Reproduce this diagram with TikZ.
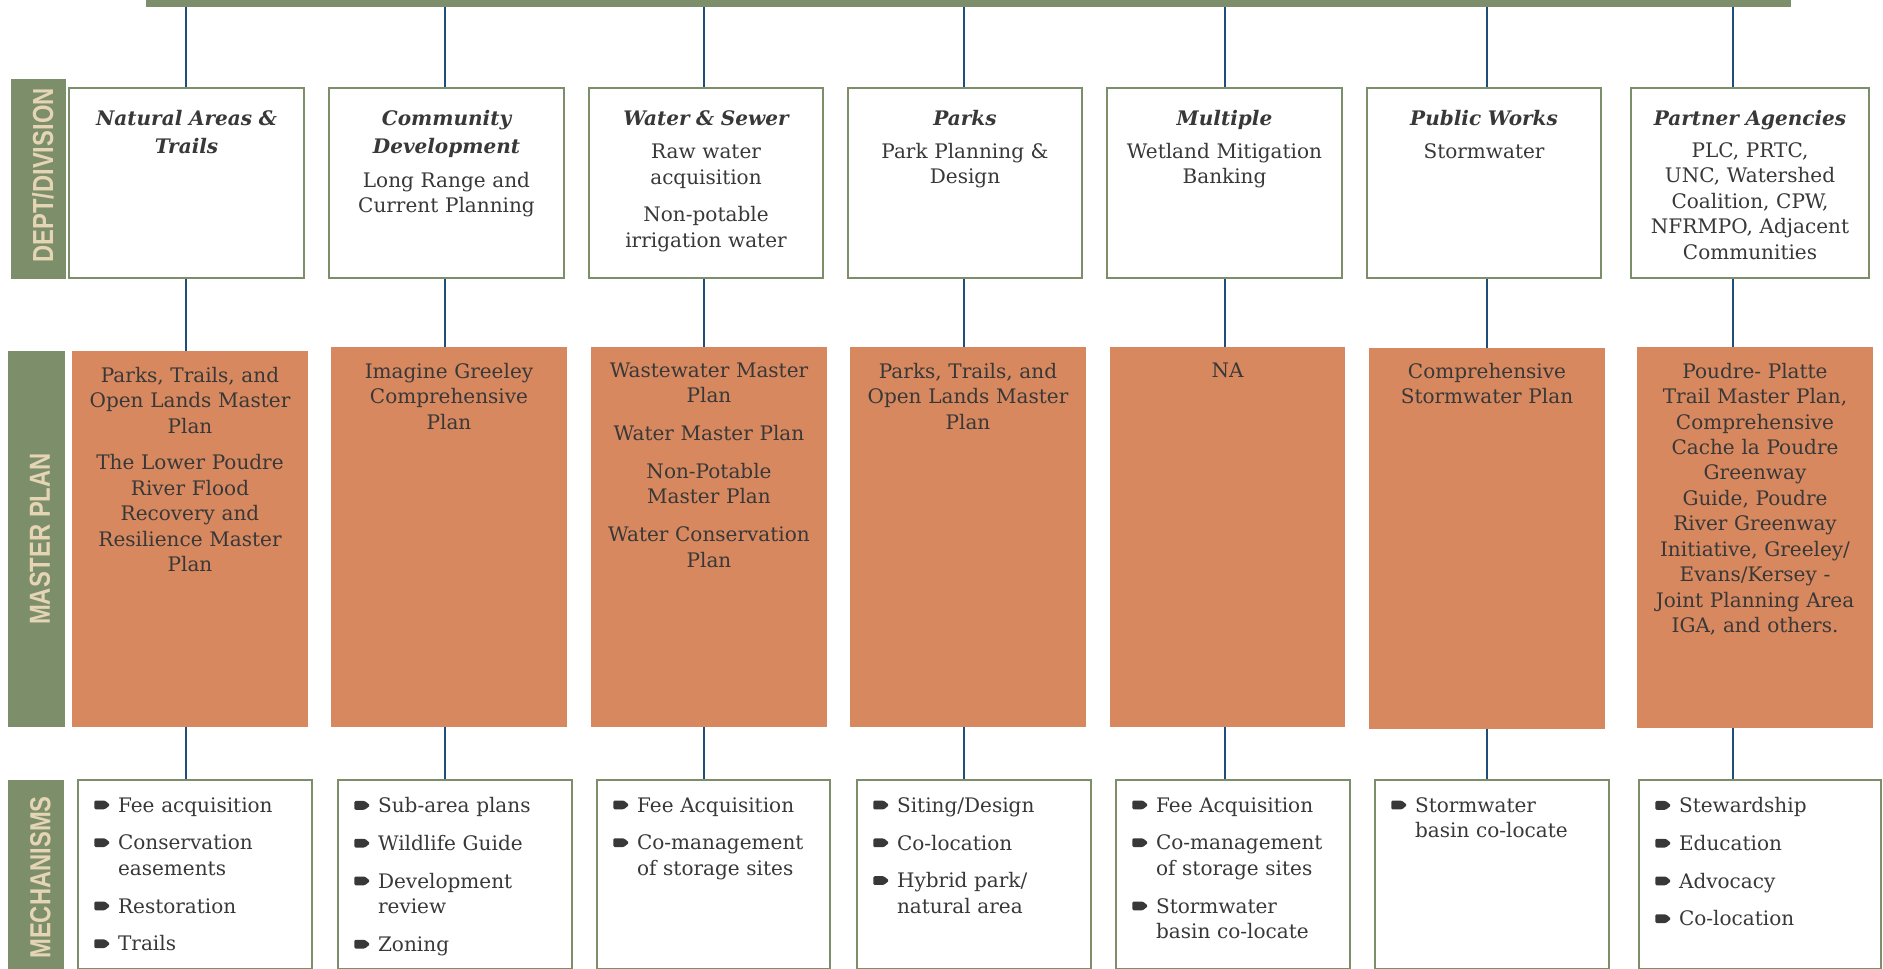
\documentclass[tikz,border=0pt]{standalone}
\usepackage{fontspec}
\setmainfont{DejaVu Serif}
\newfontfamily\tabfont[FakeStretch=0.82]{Liberation Sans}
\usetikzlibrary{fit,backgrounds}

\definecolor{sage}{HTML}{7C8F6A}
\definecolor{clay}{HTML}{D8885F}
\definecolor{navy}{HTML}{1F4E7A}
\definecolor{ink}{HTML}{383838}
\definecolor{sand}{HTML}{E5D5B5}

\newcommand{\headfont}{\bfseries\itshape}
% small tag bullet for the mechanism lists
\newcommand{\bul}{\tikz[baseline=0pt]\fill[ink,rounded corners=0.7pt] (0pt,1.6pt) -- (6pt,1.6pt) -- (9pt,4.1pt) -- (6pt,6.6pt) -- (0pt,6.6pt) -- cycle;\hspace{4.5pt}}
\newcommand{\ind}{\hspace*{13.5pt}}

\begin{document}
\begin{tikzpicture}[x=0.02cm,y=-0.02cm,
	deptbox/.style={draw=sage,line width=1.2pt,fill=white,inner sep=0pt},
	planbox/.style={fill=clay,inner sep=0pt},
	tab/.style={fill=sage,inner sep=0pt},
	tabtext/.style={rotate=90,text=sand,inner sep=0pt,font=\tabfont\bfseries\fontsize{16.5}{18}\selectfont},
	boxtext/.style={anchor=north,align=center,text=ink,text width=4.6cm,inner sep=0pt,font=\fontsize{11.4}{14.5}\selectfont},
	listtext/.style={anchor=north west,align=left,text=ink,text width=4.2cm,inner sep=0pt,font=\fontsize{11.4}{14.5}\selectfont},
	link/.style={navy,line width=1.3pt}]
	\clip (0,0) rectangle (1883,968);

	% top bar and row tabs
	\node[tab, fit={(146,0) (1791,7)}] (bar) {};
	\node[tab, fit={(11,79) (66,279)}] (t1) {};
	\node[tab, fit={(8,351) (65,727)}] (t2) {};
	\node[tab, fit={(8,780) (64,975)}] (t3) {};
	\node[tabtext] (t1l) at ([xshift=2.5pt,yshift=2pt]t1.center) {DEPT/DIVISION};
	\node[tabtext] (t2l) at ([xshift=2pt]t2.center) {MASTER PLAN};
	\node[tabtext] (t3l) at ([xshift=2.5pt]t3.center) {MECHANISMS};

	% dept/division row
	\node[deptbox, fit={(69,88) (304,278)}] (d1) {};
	\node[deptbox, fit={(329,88) (564,278)}] (d2) {};
	\node[deptbox, fit={(589,88) (823,278)}] (d3) {};
	\node[deptbox, fit={(848,88) (1082,278)}] (d4) {};
	\node[deptbox, fit={(1107,88) (1342,278)}] (d5) {};
	\node[deptbox, fit={(1367,88) (1601,278)}] (d6) {};
	\node[deptbox, fit={(1631,88) (1869,278)}] (d7) {};
	\node[boxtext] (d1t) at (186.5,110) {{\headfont Natural Areas \&\\[1.2pt]Trails}};
	\node[boxtext] (d2t) at (446.5,110) {{\headfont Community\\[1.2pt]Development}\\[5pt]Long Range and\\Current Planning};
	\node[boxtext] (d3t) at (706,110) {{\headfont Water \& Sewer}\\[4.5pt]Raw water\\acquisition\\[7pt]Non-potable\\irrigation water};
	\node[boxtext] (d4t) at (965,110) {{\headfont Parks}\\[4pt]Park Planning \&\\Design};
	\node[boxtext] (d5t) at (1224.5,110) {{\headfont Multiple}\\[4pt]Wetland Mitigation\\Banking};
	\node[boxtext] (d6t) at (1484,110) {{\headfont Public Works}\\[4pt]Stormwater};
	\node[boxtext] (d7t) at (1750,110) {{\headfont Partner Agencies}\\[3.5pt]PLC, PRTC,\\UNC, Watershed\\Coalition, CPW,\\NFRMPO, Adjacent\\Communities};

	% master plan row
	\node[planbox, fit={(72,351) (308,727)}] (p1) {};
	\node[planbox, fit={(331,347) (567,727)}] (p2) {};
	\node[planbox, fit={(591,347) (827,727)}] (p3) {};
	\node[planbox, fit={(850,347) (1086,727)}] (p4) {};
	\node[planbox, fit={(1110,347) (1345,727)}] (p5) {};
	\node[planbox, fit={(1369,348) (1605,729)}] (p6) {};
	\node[planbox, fit={(1637,347) (1873,728)}] (p7) {};
	\node[boxtext] (p1t) at (190,366.5) {Parks, Trails, and\\Open Lands Master\\Plan\\[6.5pt]The Lower Poudre\\River Flood\\Recovery and\\Resilience Master\\Plan};
	\node[boxtext] (p2t) at (449,362.5) {Imagine Greeley\\Comprehensive\\Plan};
	\node[boxtext] (p3t) at (709,362.5) {Wastewater Master\\Plan\\[7pt]Water Master Plan\\[7pt]Non-Potable\\Master Plan\\[7pt]Water Conservation\\Plan};
	\node[boxtext] (p4t) at (968,362.5) {Parks, Trails, and\\Open Lands Master\\Plan};
	\node[boxtext] (p5t) at (1227.5,362.5) {NA};
	\node[boxtext] (p6t) at (1487,362.5) {Comprehensive\\Stormwater Plan};
	\node[boxtext] (p7t) at (1755,362.5) {Poudre- Platte\\Trail Master Plan,\\Comprehensive\\Cache la Poudre\\Greenway\\Guide, Poudre\\River Greenway\\Initiative, Greeley/\\Evans/Kersey -\\Joint Planning Area\\IGA, and others.};

	% mechanisms row
	\node[deptbox, fit={(78,780) (312,969)}] (m1) {};
	\node[deptbox, fit={(338,780) (572,969)}] (m2) {};
	\node[deptbox, fit={(597,780) (830,969)}] (m3) {};
	\node[deptbox, fit={(857,780) (1091,969)}] (m4) {};
	\node[deptbox, fit={(1116,780) (1350,969)}] (m5) {};
	\node[deptbox, fit={(1375,780) (1609,969)}] (m6) {};
	\node[deptbox, fit={(1639,780) (1881,969)}] (m7) {};
	\node[listtext] (m1t) at (94,797) {\bul Fee acquisition\\[7pt]\bul Conservation\\\ind easements\\[7pt]\bul Restoration\\[7pt]\bul Trails};
	\node[listtext] (m2t) at (354,797) {\bul Sub-area plans\\[7pt]\bul Wildlife Guide\\[7pt]\bul Development\\\ind review\\[7pt]\bul Zoning};
	\node[listtext] (m3t) at (613,797) {\bul Fee Acquisition\\[7pt]\bul Co-management\\\ind of storage sites};
	\node[listtext] (m4t) at (873,797) {\bul Siting/Design\\[7pt]\bul Co-location\\[7pt]\bul Hybrid park/\\\ind natural area};
	\node[listtext] (m5t) at (1132,797) {\bul Fee Acquisition\\[7pt]\bul Co-management\\\ind of storage sites\\[7pt]\bul Stormwater\\\ind basin co-locate};
	\node[listtext] (m6t) at (1391,797) {\bul Stormwater\\\ind basin co-locate};
	\node[listtext] (m7t) at (1655,797) {\bul Stewardship\\[7pt]\bul Education\\[7pt]\bul Advocacy\\[7pt]\bul Co-location};

	% connectors
	\foreach \i/\x in {1/186,2/445,3/704,4/964,5/1225,6/1487,7/1733}
		\coordinate (c\i) at (\x,0);
	\begin{pgfonlayer}{background}
		\foreach \i in {1,...,7} {
			\draw[link] (bar.south -| c\i) -- (d\i.north -| c\i);
			\draw[link] (d\i.south -| c\i) -- (p\i.north -| c\i);
			\draw[link] (p\i.south -| c\i) -- (m\i.north -| c\i);
		}
	\end{pgfonlayer}
\end{tikzpicture}
\end{document}
